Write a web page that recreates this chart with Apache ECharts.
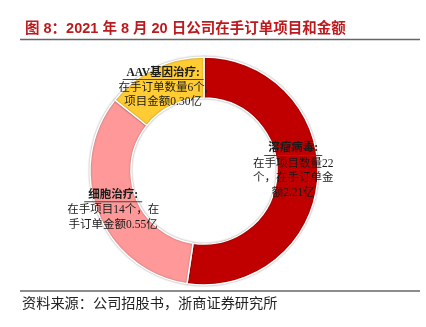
<!DOCTYPE html>
<html>
<head>
<meta charset="utf-8">
<script src="https://cdn.jsdelivr.net/npm/echarts@6/dist/echarts.min.js"></script>
<style>
  html, body { margin: 0; padding: 0; background: #fff; }
  #chart { width: 426px; height: 327px; }
</style>
</head>
<body>
<div id="chart"></div>
<script>
// Project categories, order counts and order amounts (亿元)
const categories = ['溶瘤病毒', '细胞治疗', 'AAV基因治疗'];
const projectCounts = [22, 14, 6];
const orderAmounts = [2.21, 0.55, 0.30];
// Label body lines; %n = count, %a = amount
const labelLines = [
  ['在手项目数量%n', '个，在手订单金', '额%a亿'],
  ['在手项目%n个，在', '手订单金额%a亿'],
  ['在手订单数量%n个,', '项目金额%a亿']
];
const sliceColors = ['#C00000', '#FF9999', '#FFCC33'];

const titleText = '图 8：2021 年 8 月 20 日公司在手订单项目和金额';
const sourceText = '资料来源：公司招股书，浙商证券研究所';

const serifFont = '"Liberation Serif", "Noto Sans CJK SC", serif';
const labelSize = 11.5;
// small nudges for the in-ring labels
const labelNudges = [[-7, -7], [-1, 4], [1, 4]];

// measure header widths so the underline can span them
const ctx = document.createElement('canvas').getContext('2d');
ctx.font = 'bold ' + labelSize + 'px ' + serifFont;

const data = categories.map((name, i) => {
  const header = name + ':';
  const ulWidth = Math.round(ctx.measureText(header).width + 8);
  const body = labelLines[i]
    .map(s => '{b|' + s.replace('%n', projectCounts[i]).replace('%a', orderAmounts[i].toFixed(2)) + '}')
    .join('\n');
  return {
    name: name,
    value: projectCounts[i],
    itemStyle: { color: sliceColors[i] },
    label: {
      offset: labelNudges[i],
      formatter: '{h|' + header + '}\n{u| }\n' + body,
      rich: {
        h: { fontFamily: serifFont, fontSize: labelSize, fontWeight: 'bold', color: '#1a1a1a', lineHeight: 12 },
        u: { width: ulWidth, height: 1, lineHeight: 2, backgroundColor: '#444', fontSize: 1 },
        b: { fontFamily: serifFont, fontSize: labelSize, color: '#1a1a1a', lineHeight: 14.5 }
      }
    }
  };
});

const chart = echarts.init(document.getElementById('chart'), null, { renderer: 'canvas' });
chart.setOption({
  backgroundColor: '#fff',
  animation: false,
  title: {
    text: titleText,
    left: 20,
    top: 17,
    textStyle: {
      fontFamily: '"Liberation Sans", "Noto Sans CJK SC", sans-serif',
      fontSize: 14.5,
      fontWeight: 'bold',
      color: '#BE1A1E'
    }
  },
  graphic: [
    { type: 'line', shape: { x1: 20, y1: 39.5, x2: 420, y2: 39.5 }, style: { stroke: '#666', lineWidth: 1.5 } },
    { type: 'line', shape: { x1: 20, y1: 291, x2: 420, y2: 291 }, style: { stroke: '#666', lineWidth: 1.5 } },
    {
      type: 'text', left: 22, top: 297,
      style: { text: sourceText, font: '14.2px ' + serifFont, fill: '#222' }
    }
  ],
  series: [{
    type: 'pie',
    center: [204, 171],
    radius: [73, 114],
    startAngle: 90,
    clockwise: true,
    avoidLabelOverlap: false,
    itemStyle: {
      borderColor: '#fff',
      borderWidth: 1.5,
      shadowBlur: 2,
      shadowColor: 'rgba(0,0,0,0.35)'
    },
    label: { show: true, position: 'inside', align: 'center' },
    labelLine: { show: false },
    emphasis: { disabled: true },
    data: data
  }]
});
</script>
</body>
</html>
